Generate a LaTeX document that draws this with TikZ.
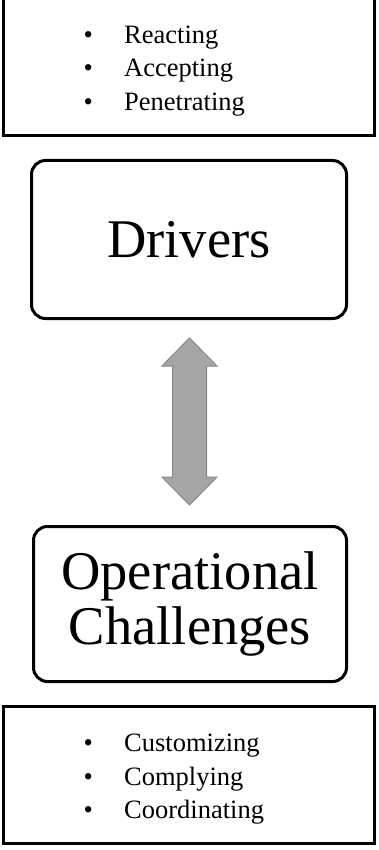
\documentclass[tikz,border=0pt]{standalone}
\usepackage{fontspec}
\setmainfont{Liberation Serif}
\begin{document}
\begin{tikzpicture}[x=1pt,y=-1pt,
  listbox/.style={draw=black,line width=3pt,fill=white},
  bigbox/.style={draw=black,line width=3pt,rounded corners=14pt,inner sep=0pt,
    font=\fontsize{54.5}{55}\selectfont,align=center},
  item/.style={anchor=base west,inner sep=0pt,font=\fontsize{26.5}{33}\selectfont},
  bigarrow/.style={draw={rgb,255:red,135;green,135;blue,135},line width=1pt,
    fill={rgb,255:red,166;green,166;blue,166},line join=miter}]
\useasboundingbox (0,0) rectangle (378,850);
% top list box
\draw[listbox] (3.5,-1) rectangle (374.5,135.5);
\node[item] (r1) at (83.4,43.3) {\makebox[40.6pt][l]{•}Reacting};
\node[item] (r2) at (83.4,76.8) {\makebox[40.6pt][l]{•}Accepting};
\node[item] (r3) at (83.4,110.2) {\makebox[40.6pt][l]{•}Penetrating};
% Drivers
\node[bigbox,minimum width=315pt,minimum height=158pt] (drv) at (189,239.5) {Drivers};
% Operational challenges
\node[bigbox,minimum width=313pt,minimum height=155pt] (oc) at (190,604) {\raisebox{-3pt}{\parbox{300pt}{\centering Operational\\Challenges}}};
% double arrow
\coordinate (atop) at (189.5,338);
\coordinate (abot) at (189.5,505);
\draw[bigarrow] (atop) -- ++(27.5,28) -- ++(-10.5,0) -- ++(0,111) -- ++(10.5,0)
  -- (abot) -- ++(-27.5,-28) -- ++(10.5,0) -- ++(0,-111) -- ++(-10.5,0) -- cycle;
% bottom list box
\draw[listbox] (3.5,706.5) rectangle (374.5,843.5);
\node[item] (c1) at (83.4,751.7) {\makebox[40.6pt][l]{•}Customizing};
\node[item] (c2) at (83.4,785) {\makebox[40.6pt][l]{•}Complying};
\node[item] (c3) at (83.4,818.3) {\makebox[40.6pt][l]{•}Coordinating};
\end{tikzpicture}
\end{document}
